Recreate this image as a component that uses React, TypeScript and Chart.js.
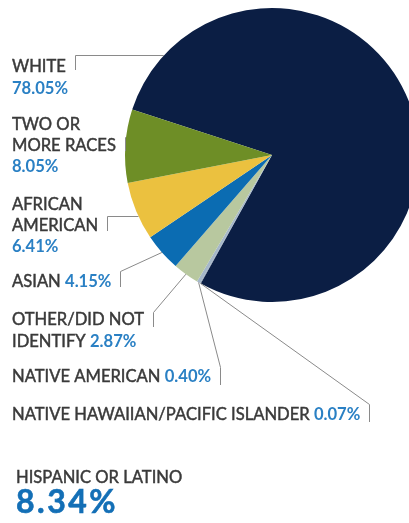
import React, { useEffect, useRef } from "react";
import { Chart, registerables } from "chart.js";

Chart.register(...registerables);

// ---- data ----
const categories = [
  "White",
  "Native Hawaiian/Pacific Islander",
  "Native American",
  "Other/Did Not Identify",
  "Asian",
  "African American",
  "Two or More Races",
];
const values = [78.05, 0.07, 0.4, 2.87, 4.15, 6.41, 8.05];
const sliceColors = ["#0b1e44", "#6f8199", "#a5b7c9", "#b8c89f", "#0b6cb2", "#ebc13f", "#6e8e26"];
const hispanicLabel = "HISPANIC OR LATINO";
const hispanicValue = 8.34;

// label text rows per slice (index into categories); value appended where flagged
type Row = { text?: string; value?: boolean };
type LabelSpec = {
  index: number;
  rows: Row[];
  baselines: number[];
  bracketRow: number;
  bracketTop: number;
  bracketBottom: number;
  connector: "horizontal" | "radial";
};

const labelSpecs: LabelSpec[] = [
  { index: 0, rows: [{ text: "WHITE" }, { value: true }], baselines: [72, 94], bracketRow: 0, bracketTop: 55, bracketBottom: 70, connector: "horizontal" },
  { index: 6, rows: [{ text: "TWO OR" }, { text: "MORE RACES" }, { value: true }], baselines: [130, 151, 172], bracketRow: 1, bracketTop: 137, bracketBottom: 151, connector: "horizontal" },
  { index: 5, rows: [{ text: "AFRICAN" }, { text: "AMERICAN" }, { value: true }], baselines: [210, 231, 252], bracketRow: 1, bracketTop: 216, bracketBottom: 231, connector: "horizontal" },
  { index: 4, rows: [{ text: "ASIAN", value: true }], baselines: [287], bracketRow: 0, bracketTop: 271, bracketBottom: 287, connector: "radial" },
  { index: 3, rows: [{ text: "OTHER/DID NOT" }, { text: "IDENTIFY", value: true }], baselines: [325, 347], bracketRow: 0, bracketTop: 312, bracketBottom: 327, connector: "radial" },
  { index: 2, rows: [{ text: "NATIVE AMERICAN", value: true }], baselines: [382], bracketRow: 0, bracketTop: 367, bracketBottom: 385, connector: "radial" },
  { index: 1, rows: [{ text: "NATIVE HAWAIIAN/PACIFIC ISLANDER", value: true }], baselines: [420], bracketRow: 0, bracketTop: 404, bracketBottom: 422, connector: "radial" },
];

const FONT_FAMILY = "Lato, 'DejaVu Sans', sans-serif";
const LABEL_FONT = `400 16.6px ${FONT_FAMILY}`;
const VALUE_FONT = `700 16.6px ${FONT_FAMILY}`;
const LABEL_COLOR = "#3a3a3a";
const VALUE_COLOR = "#2a80c4";
const LINE_COLOR = "#8a8a8a";
const TEXT_X = 12;

const fmt = (v: number) => `${v.toFixed(2)}%`;

function drawText(ctx: CanvasRenderingContext2D, t: string, x: number, y: number, color: string, thicken: number) {
  ctx.fillStyle = color;
  ctx.fillText(t, x, y);
  if (thicken > 0) {
    ctx.strokeStyle = color;
    ctx.lineWidth = thicken;
    ctx.strokeText(t, x, y);
  }
}

const labelPlugin = {
  id: "sideLabels",
  afterDraw(chart: any) {
    const ctx: CanvasRenderingContext2D = chart.ctx;
    const meta = chart.getDatasetMeta(0);
    ctx.save();
    ctx.textBaseline = "alphabetic";
    ctx.textAlign = "left";

    for (const spec of labelSpecs) {
      const arc = meta.data[spec.index];
      const { x: cx, y: cy, startAngle, endAngle, outerRadius: r } = arc.getProps(
        ["x", "y", "startAngle", "endAngle", "outerRadius"],
        true
      );
      const rowWidths: number[] = [];
      spec.rows.forEach((row, i) => {
        let x = TEXT_X;
        const y = spec.baselines[i];
        if (row.text) {
          ctx.font = LABEL_FONT;
          drawText(ctx, row.text, x, y, LABEL_COLOR, 0.45);
          x += ctx.measureText(row.text + (row.value ? " " : "")).width;
        }
        if (row.value) {
          ctx.font = VALUE_FONT;
          const t = fmt(values[spec.index]);
          drawText(ctx, t, x, y, VALUE_COLOR, 0);
          x += ctx.measureText(t).width;
        }
        rowWidths.push(x);
      });
      const bx = Math.round(rowWidths[spec.bracketRow] + 9) + 0.5;
      let ax: number, ay: number;
      if (spec.connector === "horizontal") {
        ay = spec.bracketTop + 0.5;
        const dy = ay - cy;
        ax = cx - Math.sqrt(Math.max(r * r - dy * dy, 0));
      } else {
        const mid = (startAngle + endAngle) / 2;
        ax = cx + r * Math.cos(mid);
        ay = cy + r * Math.sin(mid);
      }
      ctx.strokeStyle = LINE_COLOR;
      ctx.lineWidth = 1;
      ctx.beginPath();
      ctx.moveTo(bx, spec.bracketBottom);
      ctx.lineTo(bx, spec.bracketTop + 0.5);
      ctx.lineTo(ax, ay);
      ctx.stroke();
    }

    // Hispanic footnote
    ctx.font = LABEL_FONT;
    drawText(ctx, hispanicLabel, 16, 483, LABEL_COLOR, 0.45);
    ctx.font = `700 32px ${FONT_FAMILY}`;
    (ctx as any).letterSpacing = "2.5px";
    drawText(ctx, fmt(hispanicValue), 16, 513, "#136fb6", 0.6);
    (ctx as any).letterSpacing = "0px";
    ctx.restore();
  },
};

export default function App() {
  const ref = useRef<HTMLCanvasElement | null>(null);
  useEffect(() => {
    document.body.style.margin = "0";
    const canvas = ref.current!;
    const chart = new Chart(canvas, {
      type: "pie",
      data: {
        labels: categories,
        datasets: [
          {
            data: values,
            backgroundColor: sliceColors,
            borderWidth: 0,
            hoverOffset: 0,
          },
        ],
      },
      options: {
        animation: false,
        responsive: false,
        rotation: 288,
        radius: 147,
        layout: { padding: { left: 125, right: 11, top: 8, bottom: 221 } },
        plugins: { legend: { display: false }, tooltip: { enabled: false } },
        events: [],
      },
      plugins: [labelPlugin],
    });
    return () => chart.destroy();
  }, []);
  return (
    <div style={{ position: "relative", width: 409, height: 523, overflow: "hidden", background: "#fff" }}>
      <canvas ref={ref} width={430} height={523} style={{ width: 430, height: 523, display: "block" }} />
    </div>
  );
}
